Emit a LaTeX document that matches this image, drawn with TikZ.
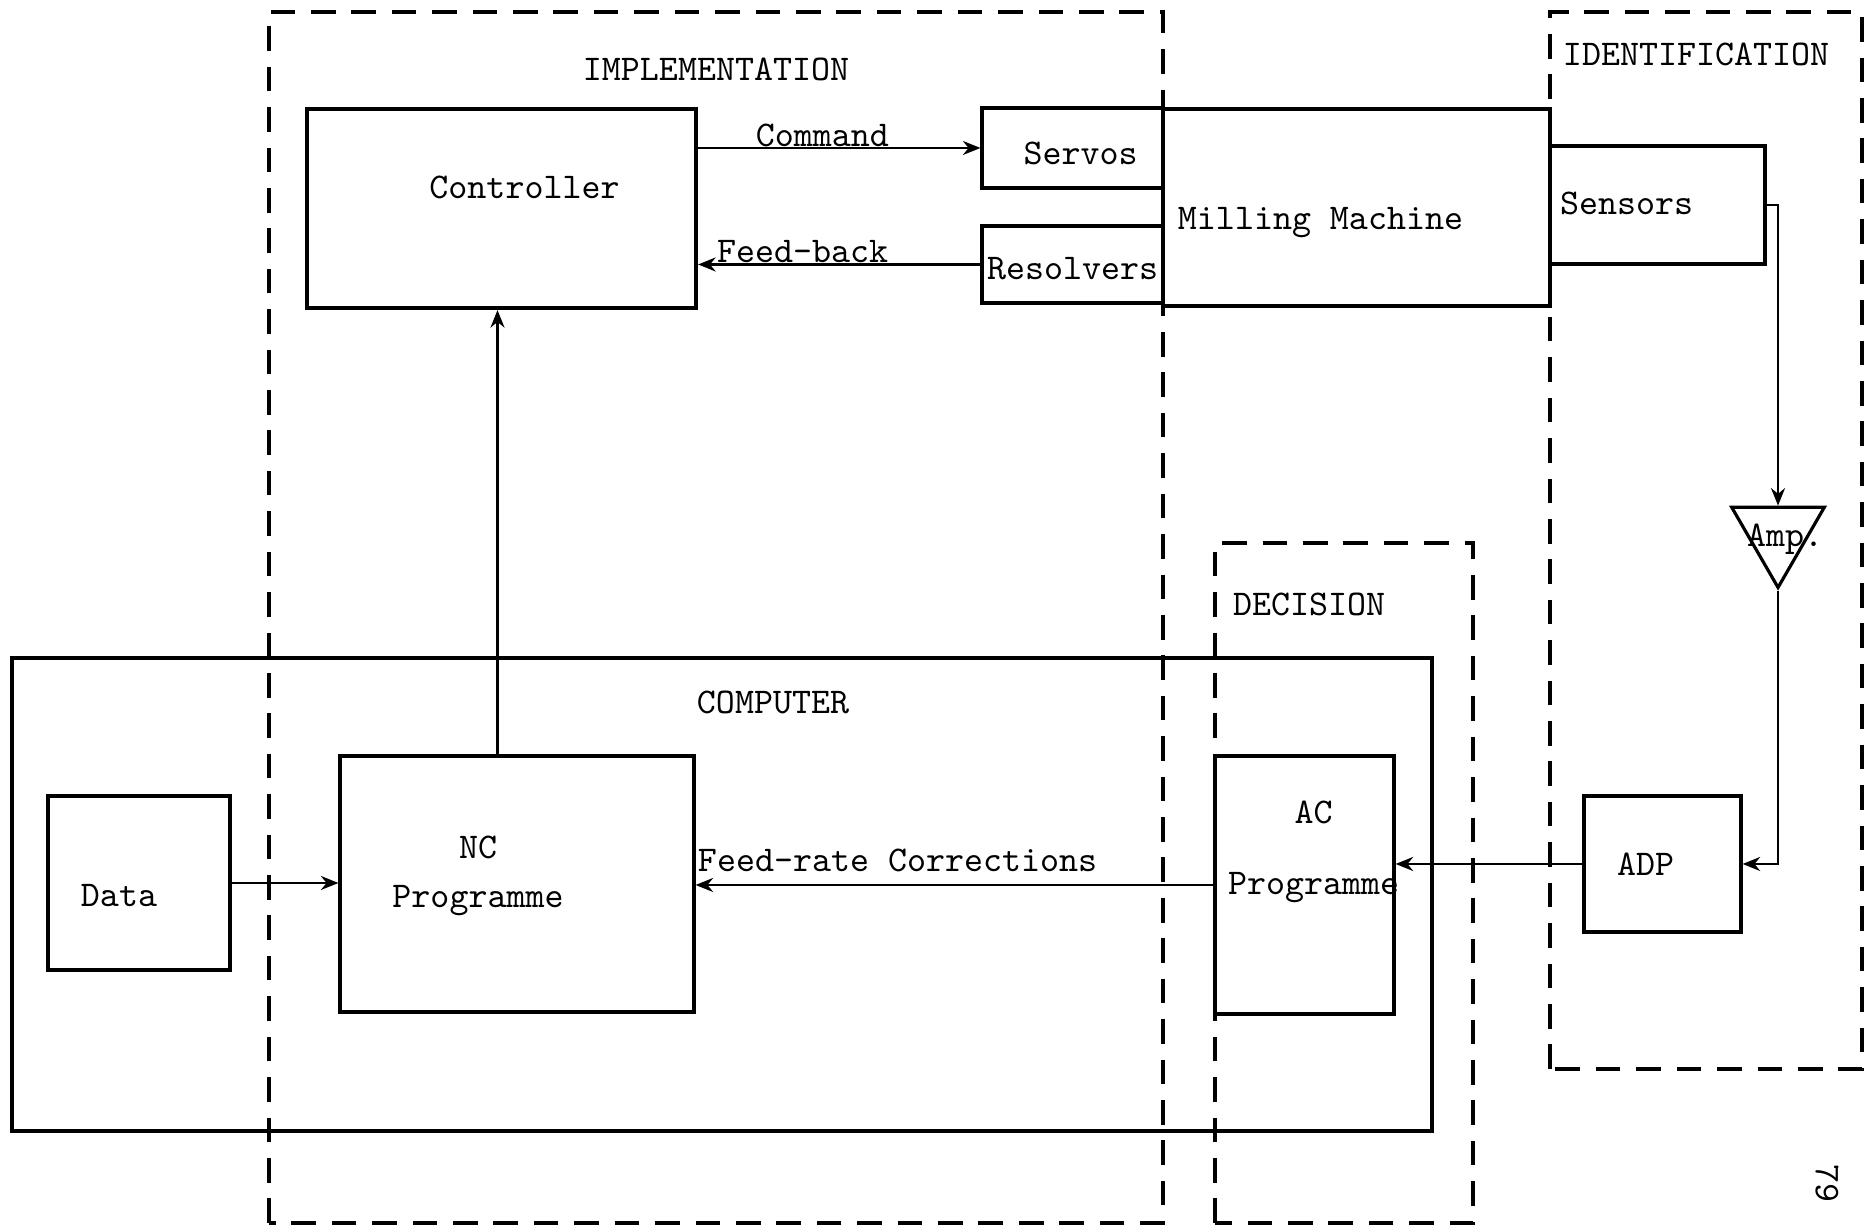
\documentclass[tikz,border=0pt]{standalone}
\usepackage{fontspec}
\usetikzlibrary{arrows.meta, positioning, shapes.geometric}
\newcommand{\twfont}{\ttfamily\fontsize{10.3}{14}\selectfont}
\tikzset{
  blk/.style={draw, line width=0.9pt, inner sep=0pt, font=\twfont},
  bigblk/.style={blk, line width=1.2pt},
  txt/.style={font=\twfont, inner sep=1pt},
  region/.style={line width=1.1pt, dash pattern=on 7pt off 4.5pt},
  link/.style={->, line width=0.6pt},
}

\begin{document}
\begin{tikzpicture}[>={Stealth[length=5pt, width=4pt]}, font=\twfont]
  \useasboundingbox (0,0) rectangle (18.66,12.28);
  % dashed regions
  \draw[region] (2.69,0.05) rectangle (11.63,12.16);
  \draw[region] (15.50,1.59) rectangle (18.62,12.16);
  \draw[region] (12.15,0.05) rectangle (14.73,6.85);
  \node[txt] (implab)  at (7.16,11.59)  {IMPLEMENTATION};
  \node[txt] (identlab) at (16.96,11.74) {IDENTIFICATION};
  \node[txt] (declab)  at (13.09,6.24)  {DECISION};
  % computer
  \node[blk, line width=1.1pt, minimum width=14.20cm, minimum height=4.73cm] (comp) at (7.22,3.335) {};
  \node[txt] (complab) at (7.73,5.26) {COMPUTER};
  % machine side
  \node[bigblk, minimum width=3.89cm, minimum height=1.99cm,
        label={[txt, xshift=2.3mm, yshift=2.1mm]center:Controller}] (ctrl) at (5.015,10.195) {};
  \node[blk, minimum width=1.81cm, minimum height=0.80cm,
        label={[txt, xshift=0.8mm, yshift=-0.5mm]center:Servos}] (servo) at (10.725,10.80) {};
  \node[blk, minimum width=1.81cm, minimum height=0.77cm,
        label={[txt, yshift=-0.4mm]center:Resolvers}] (resolv) at (10.725,9.635) {};
  \node[bigblk, minimum width=3.87cm, minimum height=1.97cm,
        label={[txt, xshift=-3.6mm, yshift=-1.5mm]center:Milling Machine}] (mill) at (13.565,10.205) {};
  \node[blk, minimum width=2.15cm, minimum height=1.18cm,
        label={[txt, xshift=-3.1mm, yshift=0.2mm]center:Sensors}] (sens) at (16.575,10.23) {};
  \node[draw, line width=0.9pt, regular polygon, regular polygon sides=3, shape border rotate=180,
        minimum size=1.07cm, inner sep=0pt,
        label={[txt, xshift=0.7mm, yshift=-0.5mm]center:Amp.}] (amp) at (17.78,6.94) {};
  % computer side
  \node[blk, minimum width=1.82cm, minimum height=1.74cm,
        label={[txt, xshift=-2mm, yshift=-1.3mm]center:Data}] (data) at (1.39,3.45) {};
  \node[blk, minimum width=3.54cm, minimum height=2.56cm,
        label={[txt, align=center, xshift=-3.9mm, yshift=0.8mm]center:NC\\Programme}] (ncprog) at (5.17,3.44) {};
  \node[blk, minimum width=1.79cm, minimum height=2.58cm,
        label={[txt, align=center, xshift=0.9mm, yshift=3.3mm]center:AC\\[6pt]Programme}] (acprog) at (13.045,3.43) {};
  \node[blk, minimum width=1.57cm, minimum height=1.36cm,
        label={[txt, xshift=-1.7mm]center:ADP}] (adp) at (16.625,3.64) {};
  % connectors
  \draw[link] (ctrl.east |- servo.west) -- node[above, pos=0.44, inner sep=0pt]{Command} (servo.west);
  \draw[link] (resolv.west) -- node[above, pos=0.63, inner sep=0.3pt]{Feed-back} (ctrl.east |- resolv.west);
  \draw[link] ([xshift=-0.4mm]ncprog.north -| ctrl.south) -- ([xshift=-0.4mm]ctrl.south);
  \draw[link] (data.east) -- (ncprog.west |- data.east);
  \draw[link] (acprog.west) -- node[above, pos=0.61]{Feed-rate Corrections} (ncprog.east |- acprog.west);
  \draw[link] (sens.east) -| (amp.north);
  \draw[link] (amp.south) |- (adp.east);
  \draw[link] (adp.west) -- (acprog.east |- adp.west);
  % page number
  \node[txt, rotate=-90] (pagenum) at (18.27,0.44) {79};
\end{tikzpicture}
\end{document}
